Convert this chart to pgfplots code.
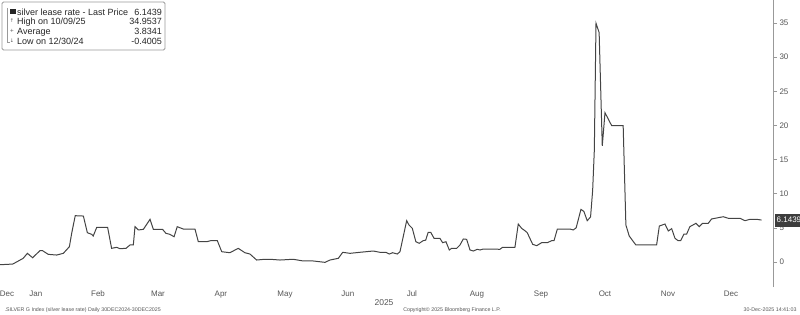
\documentclass[border=0pt]{standalone}
\usepackage{pgfplots}
\pgfplotsset{compat=1.18}
\usepackage{fontspec}
\setmainfont{Liberation Sans}
\newfontfamily\symfont{DejaVu Sans}
\definecolor{linec}{HTML}{444444}
\definecolor{tickc}{HTML}{555555}
\definecolor{axc}{HTML}{999999}
\begin{document}
\begin{tikzpicture}[x=1pt,y=1pt]
\begin{axis}[
  scale only axis, width=773pt, height=287pt,
  xmin=0, xmax=369.9, ymin=-3.66, ymax=38.36,
  axis y line*=right, axis x line*=bottom,
  x axis line style={draw=none},
  y axis line style={draw=axc, line width=0.8pt},
  xtick={3.3,17.2,46.9,75.6,105.7,136.4,166.5,197.1,228.2,258.9,289.5,319.6,349.8},
  xticklabels={Dec,Jan,Feb,Mar,Apr,May,Jun,Jul,Aug,Sep,Oct,Nov,Dec},
  xtick style={draw=none},
  xticklabel style={font=\fontsize{8}{9}\selectfont, text=tickc, yshift=3.5pt},
  ytick={0,5,10,15,20,25,30,35},
  tick align=outside, major tick length=4pt,
  ytick style={draw=axc, line width=0.6pt},
  yticklabel style={font=\fontsize{8}{9}\selectfont, text=tickc, anchor=west, xshift=-1pt},
  /pgf/number format/assume math mode=true,
  clip=false,
]
\addplot[color=linec, line width=1pt] coordinates {
(0,-0.40) (6.1,-0.30) (8.8,0.15) (11.1,0.54) (13.1,1.27) (15.6,0.63) (19.1,1.65) (20.4,1.65)
(23.1,1.12) (27.1,1.02) (30.3,1.27) (33.2,2.24) (34.3,4.2) (36.0,6.78) (39.9,6.73) (41.8,4.29)
(43.9,4.05) (44.6,3.8) (46.3,5.08) (51.5,5.08) (53.4,2.0) (55.8,2.15) (57.4,1.95) (60.3,2.0)
(62.2,2.49) (63.8,2.49) (64.6,5.17) (66.2,4.69) (68.6,4.78) (71.8,6.25) (73.4,4.78) (77.8,4.78)
(79.4,4.2) (81.3,4.05) (83.3,3.7) (84.8,5.17) (87.7,4.83) (93.3,4.83) (94.9,2.97) (98.9,2.97)
(100.8,3.12) (104.0,3.12) (106.1,1.51) (110.0,1.36) (114.0,2.0) (117.2,1.36) (119.6,1.17) (122.8,0.29)
(126.8,0.40) (129.2,0.40) (134.0,0.29) (140.3,0.40) (145.1,0.15) (149.9,0.15) (155.5,-0.05) (157.9,0.29)
(161.9,0.54) (164.0,1.42) (167.5,1.27) (172.2,1.42) (178.6,1.61) (181.8,1.42) (184.7,1.42) (186.3,1.17)
(187.9,1.36) (190.1,1.17) (191.4,1.51) (194.6,6.05) (195.7,5.42) (197.3,4.93) (199.0,2.97) (200.6,2.74)
(202.5,3.12) (203.7,3.2) (204.9,4.35) (206.1,4.35) (207.7,3.47) (210.5,3.47) (211.8,2.83) (213.4,2.97)
(215.0,1.76) (216.1,2.0) (218.5,2.0) (220.1,2.49) (221.7,3.37) (223.3,3.32) (224.9,1.76) (226.5,1.61)
(228.4,1.86) (229.7,1.76) (231.2,1.9) (234.4,1.9) (239.2,1.86) (240.5,2.15) (246.4,2.15) (248.0,5.56)
(249.6,4.93) (251.2,4.58) (252.3,4.29) (254.9,2.59) (256.8,2.39) (259.2,2.83) (261.9,2.83) (264.0,3.12)
(265.1,3.12) (266.7,4.83) (272.7,4.83) (274.3,4.69) (275.7,5.0) (278.0,7.71) (279.4,7.4) (281.0,6.05)
(282.6,6.6) (283.6,10.5) (284.4,16.4) (285.2,34.95) (286.7,33.6) (288.2,17.0) (289.5,21.86) (292.7,19.96)
(298.2,19.96) (299.5,5.42) (301.1,3.8) (304.3,2.49) (314.2,2.49) (315.5,5.27) (318.2,5.56) (319.8,4.54)
(321.4,4.88) (323.0,3.47) (324.5,3.12) (325.7,3.12) (327.3,4.1) (328.6,4.1) (330.1,5.17) (333.0,5.66)
(334.6,5.17) (336.2,5.66) (338.9,5.66) (340.5,6.3) (343.7,6.49) (346.1,6.63) (348.5,6.4) (354.1,6.4)
(356.5,6.05) (358.9,6.25) (362.1,6.25) (364.4,6.14)
};
\node[fill=linec!90!black, text=white, font=\fontsize{8}{9}\selectfont, inner sep=1.5pt, minimum height=13pt, anchor=west, xshift=2pt] at (axis cs:369.9,6.1439) {6.1439};
\coordinate (O) at (rel axis cs:0,0);
\end{axis}
\begin{scope}[shift={(O)}, yshift=-27pt]
% year label
\node[font=\fontsize{8.5}{10}\selectfont, text=tickc] at (384,11) {2025};
% footer
\node[font=\fontsize{5.3}{6}\selectfont, text=tickc, anchor=west] at (1,4) {.SILVER G Index (silver lease rate) Daily 30DEC2024-30DEC2025};
\node[font=\fontsize{5.3}{6}\selectfont, text=tickc] at (452,4) {Copyright© 2025 Bloomberg Finance L.P.};
\node[font=\fontsize{5.3}{6}\selectfont, text=tickc, anchor=east] at (800,4) {30-Dec-2025 14:41:03};
% legend box
\draw[draw=axc, line width=0.8pt, fill=white, rounded corners=1.5pt] (2,312) rectangle (165,264);
\draw[draw=axc, line width=0.5pt] (7,306) -- (7,272) -- (10,272);
\begin{scope}[font=\fontsize{9}{10}\selectfont, text=black!85]
\node[anchor=base west, inner sep=0] at (17,299) {silver lease rate - Last Price};
\node[anchor=base east, inner sep=0] at (162,299) {6.1439};
\node[anchor=base west, inner sep=0] at (17,289) {High on 10/09/25};
\node[anchor=base east, inner sep=0] at (162,289) {34.9537};
\node[anchor=base west, inner sep=0] at (17,279.5) {Average};
\node[anchor=base east, inner sep=0] at (162,279.5) {3.8341};
\node[anchor=base west, inner sep=0] at (17,270) {Low on 12/30/24};
\node[anchor=base east, inner sep=0] at (162,270) {-0.4005};
\end{scope}
\fill[black!85] (10,299.5) rectangle (15.5,305);
\node[font=\symfont\fontsize{5}{6}\selectfont, text=tickc, inner sep=0] at (12,293) {↑};
\node[font=\symfont\fontsize{5}{6}\selectfont, text=tickc, inner sep=0] at (12,283) {+};
\node[font=\symfont\fontsize{5}{6}\selectfont, text=tickc, inner sep=0] at (12,273) {↓};
\pgfresetboundingbox
\path[use as bounding box] (0,0) rectangle (800,314);
\end{scope}
\end{tikzpicture}
\end{document}
